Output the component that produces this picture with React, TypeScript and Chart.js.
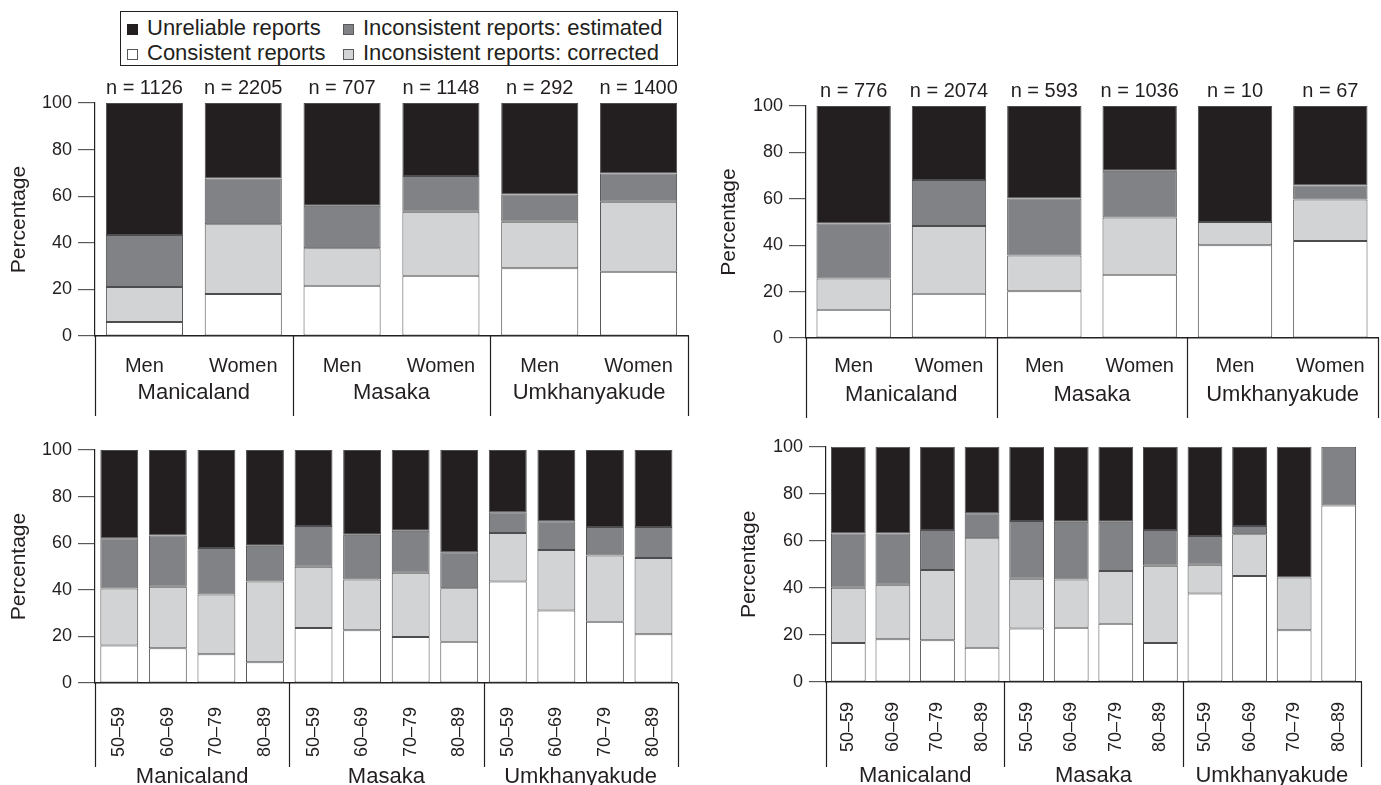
import React, { useEffect, useRef } from 'react';
import { Chart, registerables } from 'chart.js';

Chart.register(...registerables);

const FONT = "'Liberation Sans', Arial, Helvetica, sans-serif";
const TXT = '#231f20';

const seriesNames = [
  'Consistent reports',
  'Inconsistent reports: corrected',
  'Inconsistent reports: estimated',
  'Unreliable reports',
];
const seriesColors = ['#ffffff', '#d1d3d4', '#808285', '#231f20'];

const regions = ['Manicaland', 'Masaka', 'Umkhanyakude'];
const sexLabels = ['Men', 'Women', 'Men', 'Women', 'Men', 'Women'];
const ageLabels = [
  '50–59', '60–69', '70–79', '80–89',
  '50–59', '60–69', '70–79', '80–89',
  '50–59', '60–69', '70–79', '80–89',
];
const yTicks = [0, 20, 40, 60, 80, 100];

// Top-left panel
const nTopLeft = ['n = 1126', 'n = 2205', 'n = 707', 'n = 1148', 'n = 292', 'n = 1400'];
const tlConsistent = [6, 18, 21.6, 25.9, 29.1, 27.6];
const tlCorrected = [15, 30, 16.1, 27.4, 19.9, 30];
const tlEstimated = [22.4, 19.6, 18.2, 15.4, 11.7, 12.1];
const tlUnreliable = [56.6, 32.4, 44.1, 31.3, 39.3, 30.3];

// Top-right panel
const nTopRight = ['n = 776', 'n = 2074', 'n = 593', 'n = 1036', 'n = 10', 'n = 67'];
const trConsistent = [12.2, 19.1, 20.1, 27.3, 40, 41.8];
const trCorrected = [13.4, 29.2, 15.5, 24.6, 10, 17.9];
const trEstimated = [23.8, 19.8, 24.5, 20.2, 0, 6];
const trUnreliable = [50.6, 31.9, 39.9, 27.9, 50, 34.3];

// Bottom-left panel
const blConsistent = [16.1, 14.9, 12.3, 8.9, 23.6, 22.6, 19.7, 17.7, 43.6, 31.1, 26.3, 20.9];
const blCorrected = [24.5, 26.4, 25.7, 34.7, 26.3, 21.8, 27.6, 23, 20.8, 26, 28.4, 32.7];
const blEstimated = [21.5, 22, 19.9, 15.3, 17.5, 19.2, 18, 15.4, 8.9, 12.3, 12.2, 13.3];
const blUnreliable = [37.9, 36.7, 42.1, 41.1, 32.6, 36.4, 34.7, 43.9, 26.7, 30.6, 33.1, 33.1];

// Bottom-right panel
const brConsistent = [16.6, 18.2, 17.7, 14.6, 22.7, 23.1, 24.8, 16.6, 37.6, 45.1, 22, 75];
const brCorrected = [23.5, 23.2, 29.9, 46.5, 21.2, 20.5, 22.4, 32.8, 12.3, 17.7, 22.4, 0];
const brEstimated = [23, 21.7, 17, 10.6, 24.6, 24.5, 20.9, 15.2, 12.2, 3.5, 0, 25];
const brUnreliable = [36.9, 36.9, 35.4, 28.3, 31.5, 31.9, 31.9, 35.4, 37.9, 33.7, 55.6, 0];

type PanelCfg = {
  left: number;
  top: number;
  width: number;
  height: number;
  labels: string[];
  nLabels: string[] | null;
  series: number[][];
  rotated: boolean;
  topH: number;
  xH: number;
  x2H: number;
  xPad: number;
  x2Pad: number;
  padRight: number;
  yW: number;
  sepDepth: number;
};

const panels: PanelCfg[] = [
  {
    left: 0, top: 70, width: 700, height: 350,
    labels: sexLabels, nLabels: nTopLeft,
    series: [tlConsistent, tlCorrected, tlEstimated, tlUnreliable],
    rotated: false, topH: 33, xH: 42, x2H: 42, xPad: 18, x2Pad: 2, padRight: 12, yW: 95, sepDepth: 80,
  },
  {
    left: 710, top: 70, width: 671, height: 350,
    labels: sexLabels, nLabels: nTopRight,
    series: [trConsistent, trCorrected, trEstimated, trUnreliable],
    rotated: false, topH: 36, xH: 40, x2H: 42, xPad: 16, x2Pad: 4, padRight: 3, yW: 96, sepDepth: 80,
  },
  {
    left: 0, top: 430, width: 700, height: 355,
    labels: ageLabels, nLabels: null,
    series: [blConsistent, blCorrected, blEstimated, blUnreliable],
    rotated: true, topH: 20, xH: 80, x2H: 22, xPad: 24, x2Pad: 1, padRight: 22, yW: 95, sepDepth: 84,
  },
  {
    left: 730, top: 430, width: 651, height: 355,
    labels: ageLabels, nLabels: null,
    series: [brConsistent, brCorrected, brEstimated, brUnreliable],
    rotated: true, topH: 12, xH: 80, x2H: 23, xPad: 20, x2Pad: 1, padRight: 16, yW: 96, sepDepth: 85,
  },
];

const separatorPlugin = {
  id: 'groupSeparators',
  afterDraw(chart: any, _args: any, opts: any) {
    const xs = chart.scales.x;
    const ctx = chart.ctx;
    const bottom = chart.chartArea.bottom;
    const groups = opts.groups || 3;
    ctx.save();
    ctx.strokeStyle = TXT;
    ctx.lineWidth = 1.2;
    for (let k = 0; k <= groups; k++) {
      const px = Math.round(xs.left + (xs.width * k) / groups) + 0.5;
      ctx.beginPath();
      ctx.moveTo(px, bottom);
      ctx.lineTo(px, bottom + (opts.depth || 80));
      ctx.stroke();
    }
    ctx.restore();
  },
};

function Panel({ cfg }: { cfg: PanelCfg }) {
  const ref = useRef<HTMLCanvasElement | null>(null);
  useEffect(() => {
    if (!ref.current) return;
    const datasets = cfg.series.map((data, i) => ({
      label: seriesNames[i],
      data,
      backgroundColor: seriesColors[i],
      borderColor: '#4d4d4f',
      borderWidth: 1,
      borderSkipped: false as any,
      barPercentage: 0.78,
      categoryPercentage: 1,
      xAxisID: 'x',
      yAxisID: 'y',
    }));
    const scales: any = {
      x: {
        type: 'category',
        position: 'bottom',
        stacked: true,
        offset: true,
        labels: cfg.labels,
        grid: { display: false, drawTicks: false },
        border: { display: true, color: TXT, width: 1.5 },
        ticks: {
          color: TXT,
          autoSkip: false,
          font: { family: FONT, size: cfg.rotated ? 18 : 20 },
          padding: cfg.xPad,
          minRotation: cfg.rotated ? 90 : 0,
          maxRotation: cfg.rotated ? 90 : 0,
        },
        afterFit: (s: any) => { s.height = cfg.xH; },
      },
      x2: {
        type: 'category',
        position: 'bottom',
        offset: true,
        labels: regions,
        grid: { display: false, drawTicks: false },
        border: { display: false },
        ticks: { color: TXT, autoSkip: false, maxRotation: 0, font: { family: FONT, size: 22 }, padding: cfg.x2Pad },
        afterFit: (s: any) => { s.height = cfg.x2H; },
      },
      y: {
        type: 'linear',
        stacked: true,
        min: 0,
        max: 100,
        afterBuildTicks: (s: any) => { s.ticks = yTicks.map((v) => ({ value: v })); },
        ticks: { color: TXT, font: { family: FONT, size: 18 }, padding: 6 },
        grid: { drawOnChartArea: false, drawTicks: true, tickLength: 17, color: '#58595b', lineWidth: 1.2 },
        border: { display: true, color: TXT, width: 1.2 },
        title: {
          display: true,
          text: 'Percentage',
          color: TXT,
          font: { family: FONT, size: 21 },
          padding: { top: 7, bottom: 0 },
        },
        afterFit: (s: any) => { s.width = cfg.yW; },
      },
    };
    if (cfg.nLabels) {
      scales.xn = {
        type: 'category',
        position: 'top',
        offset: true,
        labels: cfg.nLabels,
        grid: { display: false, drawTicks: false },
        border: { display: false },
        ticks: { color: TXT, autoSkip: false, maxRotation: 0, font: { family: FONT, size: 20 }, padding: 3 },
        afterFit: (s: any) => { s.height = cfg.topH; },
      };
    }
    const chart = new Chart(ref.current, {
      type: 'bar',
      data: { labels: cfg.labels, datasets },
      options: {
        animation: false,
        responsive: false,
        maintainAspectRatio: false,
        devicePixelRatio: 1,
        events: [],
        layout: {
          padding: { left: 0, right: cfg.padRight, top: cfg.nLabels ? 0 : cfg.topH, bottom: 0 },
        },
        plugins: {
          legend: { display: false },
          tooltip: { enabled: false },
          groupSeparators: { groups: 3, depth: cfg.sepDepth },
        } as any,
        scales,
      },
      plugins: [separatorPlugin],
    });
    return () => chart.destroy();
  }, [cfg]);
  return (
    <canvas
      ref={ref}
      width={cfg.width}
      height={cfg.height}
      style={{ position: 'absolute', left: cfg.left, top: cfg.top, width: cfg.width, height: cfg.height }}
    />
  );
}

const legendRows = [
  [3, 2],
  [0, 1],
];

function Legend() {
  return (
    <div
      style={{
        position: 'absolute',
        left: 120,
        top: 11,
        width: 556,
        height: 53,
        border: `1.5px solid ${TXT}`,
        fontFamily: FONT,
        fontSize: 22,
        color: TXT,
      }}
    >
      {legendRows.map((row, r) =>
        row.map((si, c) => (
          <div
            key={`${r}-${c}`}
            style={{
              position: 'absolute',
              left: c === 0 ? 6 : 222,
              top: r === 0 ? 3 : 28,
              height: 26,
              lineHeight: '26px',
              whiteSpace: 'nowrap',
              display: 'flex',
              alignItems: 'center',
            }}
          >
            <span
              style={{
                display: 'inline-block',
                width: 9,
                height: 9,
                background: seriesColors[si],
                border: `1px solid ${si === 3 ? TXT : '#58595b'}`,
                marginRight: 9,
                marginTop: 2,
              }}
            />
            <span>{seriesNames[si]}</span>
          </div>
        ))
      )}
    </div>
  );
}

export default function App() {
  return (
    <div
      style={{
        position: 'fixed',
        left: 0,
        top: 0,
        width: 1381,
        height: 785,
        background: '#ffffff',
        overflow: 'hidden',
      }}
    >
      <Legend />
      {panels.map((p, i) => (
        <Panel key={i} cfg={p} />
      ))}
    </div>
  );
}
